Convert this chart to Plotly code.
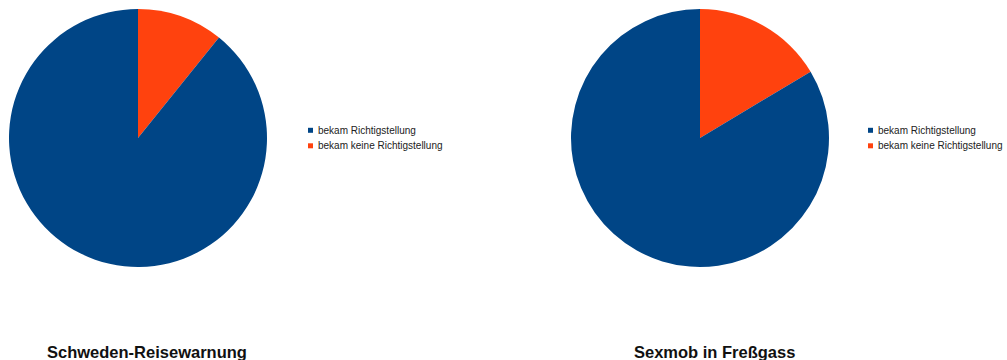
import plotly.graph_objects as go

labels = ["bekam Richtigstellung", "bekam keine Richtigstellung"]
values_schweden = [89.2, 10.8]
values_sexmob = [83.6, 16.4]
titles = ["Schweden-Reisewarnung", "Sexmob in Freßgass"]
colors = ["#004586", "#ff420e"]

W, H = 1007, 360
FONT = "Liberation Sans, Arial, sans-serif"

fig = go.Figure()
# slices drawn clockwise from 12 o'clock, second category first (as in the reference)
for vals, dom in ((values_schweden, [9/W, 267/W]), (values_sexmob, [571/W, 829/W])):
    fig.add_trace(go.Pie(
        labels=labels[::-1], values=vals[::-1], sort=False, direction="clockwise",
        rotation=0, textinfo="none", marker=dict(colors=colors[::-1], line=dict(width=0)),
        domain=dict(x=dom, y=[93/H, 351/H]), showlegend=False, hoverinfo="label+percent",
    ))

shapes = []
annotations = []
# manual legends (small squares, tight text)
for lx in (308, 868):
    for i, (lab, col) in enumerate(zip(labels, colors)):
        cy = 130.3 + i * 15.5
        shapes.append(dict(type="rect", xref="paper", yref="paper",
                           x0=lx / W, x1=(lx + 5) / W, y0=1 - (cy + 2.5) / H, y1=1 - (cy - 2.5) / H,
                           fillcolor=col, line=dict(width=0)))
        annotations.append(dict(text=lab, x=(lx + 8) / W, y=1 - cy / H, xref="paper", yref="paper",
                                showarrow=False, xanchor="left", yanchor="middle",
                                font=dict(family=FONT, size=10, color="#222222")))

for tx, t in zip((147, 714), titles):
    annotations.append(dict(text="<b>" + t + "</b>", x=tx / W, y=1 - 352 / H, xref="paper", yref="paper",
                            showarrow=False, xanchor="center", yanchor="middle",
                            font=dict(family=FONT, size=16.5, color="#111111")))

fig.update_layout(
    width=W, height=H,
    margin=dict(l=0, r=0, t=0, b=0),
    paper_bgcolor="white", plot_bgcolor="white",
    shapes=shapes, annotations=annotations,
)

fig.write_html("out.html")
